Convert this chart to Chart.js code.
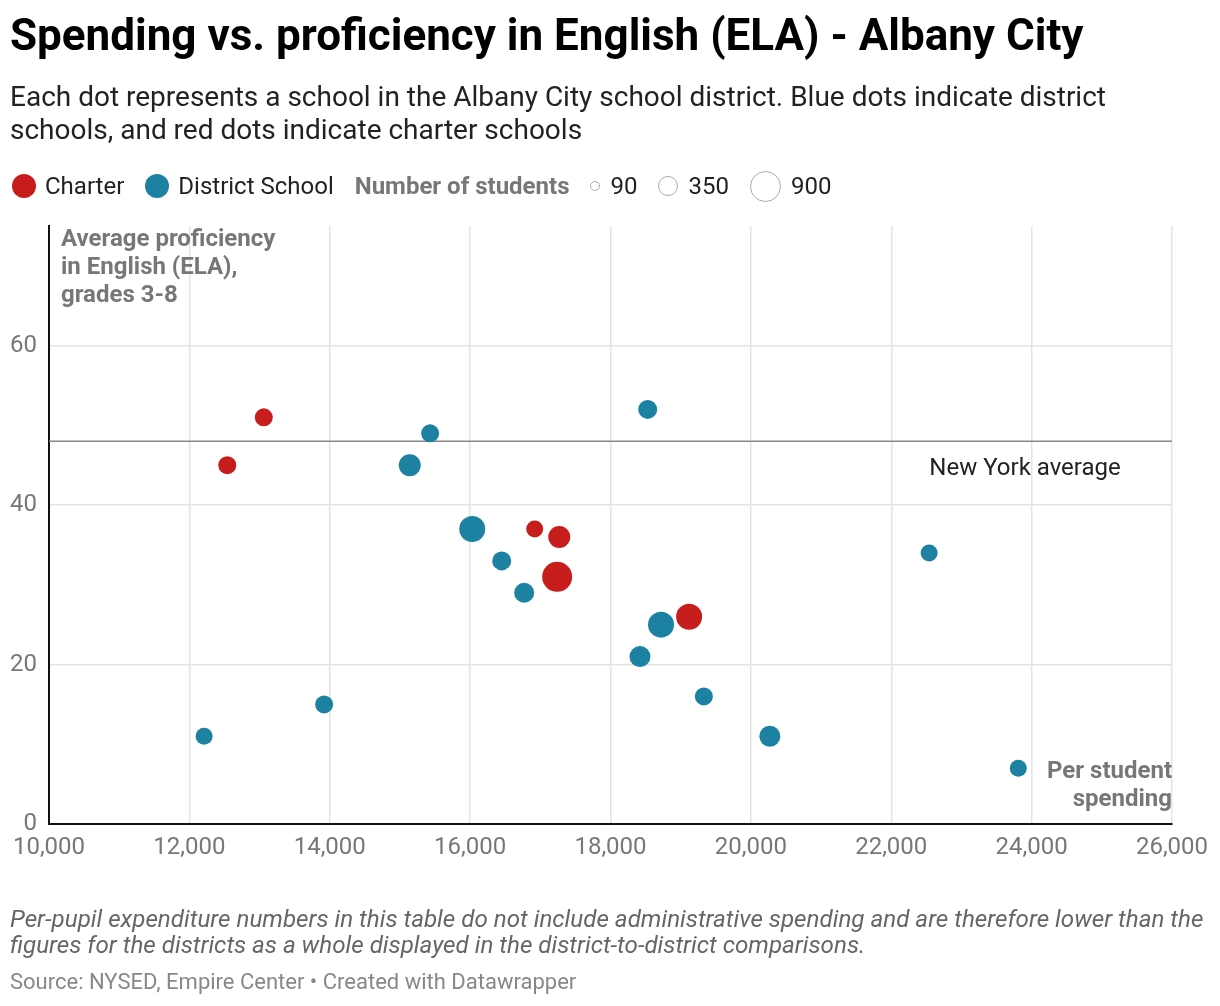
<!DOCTYPE html>
<html>
<head>
<meta charset="utf-8">
<script src="https://cdn.jsdelivr.net/npm/chart.js@4"></script>
<style>
  html, body { margin:0; padding:0; background:#fff; }
  body { width:1220px; height:1006px; position:relative; font-family: Roboto, "Noto Sans", sans-serif; overflow:hidden; }
  #wrap { position:absolute; left:0; top:0; width:1220px; height:1006px; }
  .abs { position:absolute; white-space:nowrap; }
  #title { left:10px; top:13px; font-size:44px; line-height:44px; font-weight:700; color:#000; }
  #sub { left:10px; top:80px; font-size:28px; line-height:33px; color:#222; white-space:normal; width:1150px; }
  #legend { left:12px; top:171px; height:30px; font-size:24px; color:#222; display:flex; align-items:center; }
  .dot { display:inline-block; border-radius:50%; margin-right:9px; }
  .ring { display:inline-block; border-radius:50%; border:1.5px solid #aaa; box-sizing:border-box; margin-right:10px; }
  .item { display:flex; align-items:center; margin-right:21px; }
  #ylab { left:61px; top:224px; font-size:24px; font-weight:700; color:#777; line-height:28px; }
  #xlab { right:48px; top:756px; font-size:24px; font-weight:700; color:#777; line-height:28px; text-align:right; }
  #note { left:10px; top:907px; font-size:24.2px; font-style:italic; color:#666; line-height:25.5px; white-space:normal; width:1210px; }
  #src { left:10px; top:970px; font-size:22px; line-height:24px; color:#888; }
</style>
</head>
<body>
<div id="wrap"><canvas id="c" width="1220" height="1006"></canvas></div>
<div class="abs" id="title">Spending vs. proficiency in English (ELA) - Albany City</div>
<div class="abs" id="sub">Each dot represents a school in the Albany City school district. Blue dots indicate district schools, and red dots indicate charter schools</div>
<div class="abs" id="legend">
  <span class="item"><span class="dot" style="width:24px;height:24px;background:#c71e1d"></span>Charter</span>
  <span class="item"><span class="dot" style="width:24px;height:24px;background:#1d81a2"></span>District School</span>
  <span class="item" style="font-weight:700;color:#777;">Number of students</span>
  <span class="item"><span class="ring" style="width:10px;height:10px"></span>90</span>
  <span class="item"><span class="ring" style="width:20px;height:20px"></span>350</span>
  <span class="item"><span class="ring" style="width:31px;height:31px"></span>900</span>
</div>
<div class="abs" id="ylab">Average proficiency<br>in English (ELA),<br>grades 3-8</div>
<div class="abs" id="xlab">Per student<br>spending</div>
<div class="abs" id="note">Per-pupil expenditure numbers in this table do not include administrative spending and are therefore lower than the figures for the districts as a whole displayed in the district-to-district comparisons.</div>
<div class="abs" id="src">Source: NYSED, Empire Center • Created with Datawrapper</div>
<script>
// ---- data ----
const charterSpending   = [13060, 12540, 16920, 17270, 17240, 19120];
const charterProficiency= [51, 45, 37, 36, 31, 26];
const charterStudents   = [324, 324, 289, 484, 900, 676];

const districtSpending   = [18530, 15430, 15140, 16030, 16450, 16770, 18720, 18420, 19330, 20270, 22540, 23810, 12210, 13920];
const districtProficiency= [52, 49, 45, 37, 33, 29, 25, 21, 16, 11, 34, 7, 11, 15];
const districtStudents   = [361, 324, 484, 676, 361, 400, 676, 441, 324, 441, 289, 289, 289, 324];

const nyAverage = 48;
const xTicks = [10000, 12000, 14000, 16000, 18000, 20000, 22000, 24000, 26000];
const yTicks = [0, 20, 40, 60];

const radiusFor = n => 0.5 * Math.sqrt(n);
const toPoints = (xs, ys, ns) => xs.map((x, i) => ({ x: x, y: ys[i], r: radiusFor(ns[i]) }));

const avgLabel = {
  id: 'avgLabel',
  afterDatasetsDraw(chart) {
    const { ctx, scales: { x, y } } = chart;
    ctx.save();
    ctx.font = '24px Roboto, sans-serif';
    ctx.fillStyle = '#222';
    ctx.textAlign = 'right';
    ctx.textBaseline = 'middle';
    ctx.fillText('New York average', x.getPixelForValue(25270), y.getPixelForValue(nyAverage - 3.5));
    ctx.restore();
  }
};

new Chart(document.getElementById('c'), {
  type: 'bubble',
  data: {
    datasets: [
      {
        type: 'line',
        label: 'New York average',
        data: [{ x: xTicks[0], y: nyAverage }, { x: xTicks[xTicks.length - 1], y: nyAverage }],
        borderColor: '#888',
        borderWidth: 1.5,
        pointRadius: 0,
        order: 3
      },
      {
        label: 'District School',
        data: toPoints(districtSpending, districtProficiency, districtStudents),
        backgroundColor: '#1d81a2',
        borderWidth: 0,
        hoverRadius: 0,
        order: 2
      },
      {
        label: 'Charter',
        data: toPoints(charterSpending, charterProficiency, charterStudents),
        backgroundColor: '#c71e1d',
        borderWidth: 0,
        hoverRadius: 0,
        order: 1
      }
    ]
  },
  options: {
    responsive: false,
    animation: false,
    events: [],
    layout: { padding: { left: 0, right: 48, top: 226, bottom: 142 } },
    plugins: { legend: { display: false }, tooltip: { enabled: false } },
    scales: {
      x: {
        type: 'linear',
        min: xTicks[0], max: xTicks[xTicks.length - 1],
        afterBuildTicks: s => { s.ticks = xTicks.map(v => ({ value: v })); },
        afterFit: s => { s.height = 40; },
        ticks: {
          padding: 10,
          color: '#777',
          font: { family: 'Roboto', size: 24 },
          maxRotation: 0,
          callback: v => v.toLocaleString('en-US')
        },
        grid: { color: '#e4e4e4', lineWidth: 1.5, drawTicks: false },
        border: { color: '#111', width: 2 }
      },
      y: {
        type: 'linear',
        min: 0, max: 75,
        afterBuildTicks: s => { s.ticks = yTicks.map(v => ({ value: v })); },
        afterFit: s => { s.width = 49; },
        ticks: {
          padding: 12,
          color: '#777',
          font: { family: 'Roboto', size: 24 }
        },
        grid: { color: '#e4e4e4', lineWidth: 1.5, drawTicks: false },
        border: { color: '#111', width: 2 }
      }
    }
  },
  plugins: [avgLabel]
});
</script>
</body>
</html>
